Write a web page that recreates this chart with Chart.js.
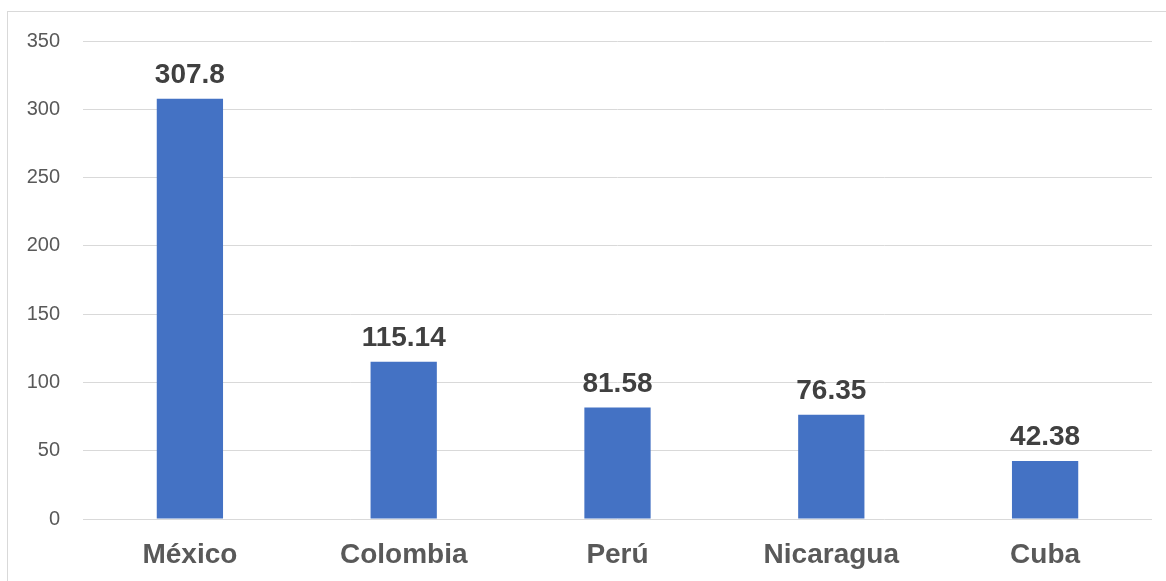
<!DOCTYPE html>
<html>
<head>
<meta charset="utf-8">
<script src="https://cdn.jsdelivr.net/npm/chart.js@4"></script>
<style>
  html, body { margin: 0; padding: 0; background: #ffffff; }
  #wrap { position: relative; width: 1166px; height: 581px; overflow: hidden; }
  #frame { position: absolute; left: 7px; top: 11px; width: 1200px; height: 600px; border: 1px solid #d9d9d9; box-sizing: border-box; }
  canvas { position: absolute; left: 0; top: 0; }
</style>
</head>
<body>
<div id="wrap">
  <div id="frame"></div>
  <canvas id="c" width="1166" height="581"></canvas>
</div>
<script>
const categories = ["México", "Colombia", "Perú", "Nicaragua", "Cuba"];
const values = [307.8, 115.14, 81.58, 76.35, 42.38];
const valueLabels = ["307.8", "115.14", "81.58", "76.35", "42.38"];
const yTicks = [0, 50, 100, 150, 200, 250, 300, 350];

const FONT = "'Liberation Sans', Arial, sans-serif";

const dataLabelPlugin = {
  id: 'dataLabels',
  afterDatasetsDraw(chart) {
    const ctx = chart.ctx;
    const meta = chart.getDatasetMeta(0);
    ctx.save();
    ctx.font = "bold 28px " + FONT;
    ctx.fillStyle = "#404040";
    ctx.textAlign = "center";
    ctx.textBaseline = "alphabetic";
    meta.data.forEach((bar, i) => {
      ctx.fillText(valueLabels[i], bar.x, bar.y - 16);
    });
    ctx.restore();
  }
};

new Chart(document.getElementById('c'), {
  type: 'bar',
  data: {
    labels: categories,
    datasets: [{
      data: values,
      backgroundColor: '#4472C4',
      borderWidth: 0,
      barPercentage: 0.31,
      categoryPercentage: 1.0
    }]
  },
  options: {
    responsive: false,
    animation: false,
    devicePixelRatio: 1,
    layout: { padding: { top: 41, right: 14, left: 0, bottom: 0 } },
    plugins: { legend: { display: false }, tooltip: { enabled: false } },
    scales: {
      y: {
        min: 0, max: 350,
        afterBuildTicks(axis) { axis.ticks = yTicks.map(v => ({ value: v })); },
        afterFit(axis) { axis.width = 83; },
        grid: { color: '#d9d9d9', lineWidth: 1, drawTicks: false },
        border: { display: false },
        ticks: { color: '#595959', font: { family: FONT, size: 20 }, padding: 23 }
      },
      x: {
        afterFit(axis) { axis.height = 62; },
        grid: { display: false, drawTicks: false },
        border: { display: false },
        ticks: { color: '#595959', font: { family: FONT, size: 28, weight: 'bold' }, padding: 19, maxRotation: 0 }
      }
    }
  },
  plugins: [dataLabelPlugin]
});
</script>
</body>
</html>
